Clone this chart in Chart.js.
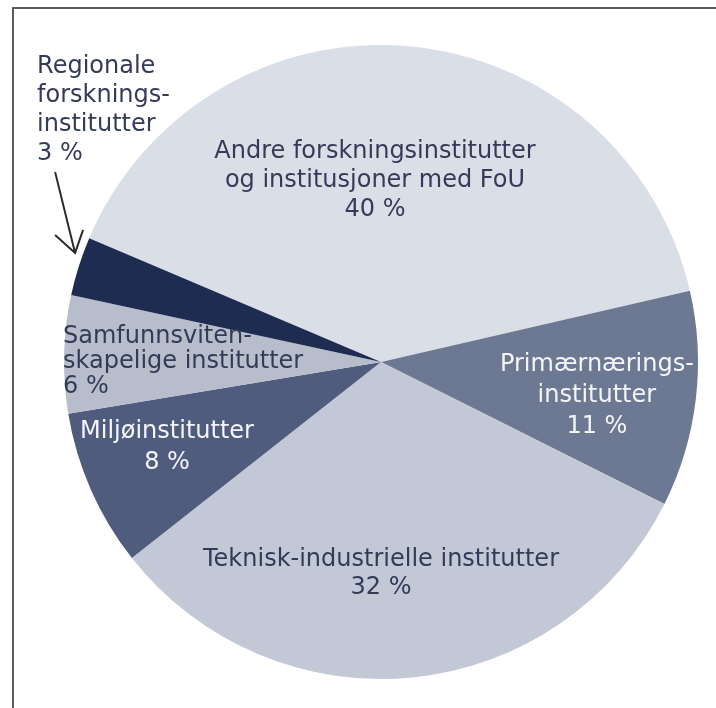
<!DOCTYPE html>
<html>
<head>
<meta charset="utf-8">
<script src="https://cdn.jsdelivr.net/npm/chart.js@4"></script>
<style>
  html, body { margin: 0; padding: 0; background: #fff; overflow: hidden; }
  #wrap { position: relative; width: 716px; height: 708px; }
  #frame {
    position: absolute; left: 12px; top: 7px; width: 800px; height: 800px;
    border: 2px solid #5c5c5c; box-sizing: border-box;
  }
  canvas { position: absolute; left: 0; top: 0; }
</style>
</head>
<body>
<div id="wrap">
  <div id="frame"></div>
  <canvas id="pie" width="716" height="708"></canvas>
</div>
<script>
// categories, clockwise from the top-left boundary
const categories = [
  "Andre forskningsinstitutter og institusjoner med FoU",
  "Primærnæringsinstitutter",
  "Teknisk-industrielle institutter",
  "Miljøinstitutter",
  "Samfunnsvitenskapelige institutter",
  "Regionale forskningsinstitutter",
];
const shares = [40, 11, 32, 8, 6, 3];
const labelLines = [
  ["Andre forskningsinstitutter", "og institusjoner med FoU"],
  ["Primærnærings-", "institutter"],
  ["Teknisk-industrielle institutter"],
  ["Miljøinstitutter"],
  ["Samfunnsviten-", "skapelige institutter"],
  ["Regionale", "forsknings-", "institutter"],
];

const colors = ["#dadee6", "#6d7893", "#c2c8d5", "#4f5c7e", "#b7bdca", "#1e2c52"];

// label placement, in units of the pie radius from its centre
const labelStyle = [
  { fx: -0.019, fy: -0.571, align: "center", lh: 29, color: "#343b58" },
  { fx: 0.681, fy: 0.107, align: "center", lh: 31, color: "#f4f5f8" },
  { fx: 0.0, fy: 0.669, align: "center", lh: 28, color: "#343b58" },
  { fx: -0.675, fy: 0.27, align: "center", lh: 31, color: "#f4f5f8" },
  { fx: -1.003, fy: 0.0, align: "left", lh: 25, color: "#343b58" },
  { fx: -1.085, fy: -0.793, align: "left", lh: 29, color: "#343b58" },
];

const labelPlugin = {
  id: "sliceLabels",
  afterDraw(chart) {
    const arc = chart.getDatasetMeta(0).data[0];
    const cx = arc.x, cy = arc.y, r = arc.outerRadius;
    const ctx = chart.ctx;
    ctx.save();
    ctx.font = '24px "DejaVu Sans"';
    ctx.textBaseline = "middle";
    shares.forEach((v, i) => {
      const s = labelStyle[i];
      const lines = [...labelLines[i], v + " %"];
      const x = cx + s.fx * r;
      let y = cy + s.fy * r - ((lines.length - 1) * s.lh) / 2;
      ctx.fillStyle = s.color;
      ctx.textAlign = s.align;
      lines.forEach((t) => {
        ctx.fillText(t, x, y);
        y += s.lh;
      });
    });

    // arrow pointing at the small slice
    const tail = [cx - 1.028 * r, cy - 0.599 * r];
    const tip = [cx - 0.965 * r, cy - 0.344 * r];
    ctx.strokeStyle = "#2b2b2b";
    ctx.lineWidth = 2;
    ctx.beginPath();
    ctx.moveTo(tail[0], tail[1]);
    ctx.lineTo(tip[0], tip[1]);
    ctx.moveTo(tip[0] - 20, tip[1] - 18);
    ctx.lineTo(tip[0], tip[1]);
    ctx.lineTo(tip[0] + 8, tip[1] - 23);
    ctx.stroke();
    ctx.restore();
  },
};

new Chart(document.getElementById("pie"), {
  type: "pie",
  data: {
    labels: categories,
    datasets: [
      {
        data: shares,
        backgroundColor: colors,
        borderWidth: 0,
      },
    ],
  },
  options: {
    responsive: false,
    animation: false,
    rotation: -67,
    layout: { padding: { left: 64, right: 18, top: 45, bottom: 29 } },
    plugins: {
      legend: { display: false },
      tooltip: { enabled: false },
    },
  },
  plugins: [labelPlugin],
});
</script>
</body>
</html>
